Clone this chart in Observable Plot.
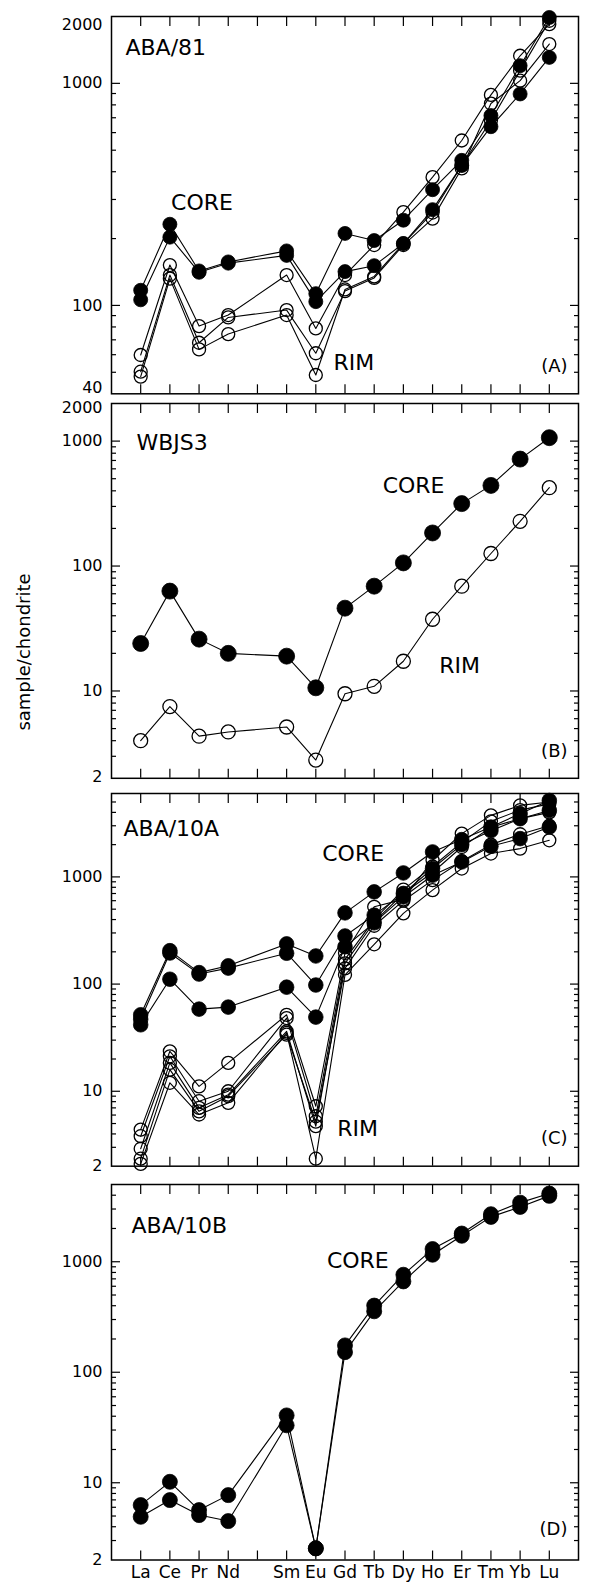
<!DOCTYPE html>
<html><head><meta charset="utf-8">
<script src="https://cdn.jsdelivr.net/npm/d3@7"></script>
<script src="https://cdn.jsdelivr.net/npm/@observablehq/plot@0.6"></script>
<style>
body{margin:0;background:#fff;}
#wrap{position:relative;width:590px;height:1584px;font-family:"DejaVu Sans",sans-serif;overflow:hidden;}
#wrap svg{position:absolute;left:0;}
#ylab{position:absolute;left:23px;top:652px;transform:translate(-50%,-50%) rotate(-90deg);font-size:18px;white-space:nowrap;color:#000;}
</style></head><body><div id="wrap"><div id="ylab">sample/chondrite</div></div>
<script>
// REE labels and their atomic numbers (Pm, 61, has no data)
const elements = ["La","Ce","Pr","Nd","Sm","Eu","Gd","Tb","Dy","Ho","Er","Tm","Yb","Lu"];
const atomicNumbers = [57,58,59,60,62,63,64,65,66,67,68,69,70,71];
const tickNumbers = [57,58,59,60,61,62,63,64,65,66,67,68,69,70,71];

// (A) ABA/81
const aba81Core1 = [117,232,143,157,176,113,211,196,242,332,450,716,1201,1980];
const aba81Core2 = [106,203,141,155,168,104,142,151,190,270,427,638,896,1309];
const aba81Rim1  = [59.8,152,80.7,90.5,137,78.8,137,187,263,378,553,887,1331,1849];
const aba81Rim2  = [50.3,137,67.9,88.3,95.3,60.9,116,133,187,246,414,811,1028,1503];
const aba81Rim3  = [47.8,132,63.4,74.3,90.5,48.6,118,135,190,262,427,680,1141,1914];
const yTicksA = [40,100,1000,2000];

// (B) WBJS3
const wbjs3Core = [24,63,26,20,19,10.6,46,69,106,184,316,442,718,1065];
const wbjs3Rim  = [4.0,7.5,4.35,4.7,5.15,2.8,9.5,10.9,17.3,37.5,69,126,228,424];
const yTicksB = [2,10,100,1000,2000];

// (C) ABA/10A
const aba10aCore1 = [51.7,205,128,148,237,183,462,725,1089,1710,2228,2918,3890,5166];
const aba10aCore2 = [47,195,124,141,194,98,281,440,701,1197,2000,2700,3491,4169];
const aba10aCore3 = [41.7,111,58.4,61,93.6,49.2,223,373,650,1037,1380,1931,2277,2918];
const aba10aRim1 = [4.39,23.6,11.1,18.4,51.7,7.25,195,526,617,1430,2534,3750,4645,5000];
const aba10aRim2 = [3.81,21.2,8.08,10,48.2,5.85,170,400,760,1250,2100,3300,4200,4800];
const aba10aRim3 = [2.91,18.4,7.0,9.3,36.2,4.72,156,380,700,1100,1900,2900,3500,4000];
const aba10aRim4 = [2.35,15.9,6.5,9.0,33.7,5.2,140,350,600,933,1400,2000,2500,3000];
const aba10aRim5 = [2.1,12,6.07,7.8,35,2.35,122,235,457,752,1197,1652,1837,2195];
const yTicksC = [2,10,100,1000,6000];

// (D) ABA/10B
const aba10bCore1 = [6.28,10.2,5.66,7.73,40.7,2.55,175,401,763,1303,1800,2692,3427,4140];
const aba10bCore2 = [4.92,6.97,5.1,4.5,33.1,2.55,152,356,664,1157,1718,2546,3134,3946];
const yTicksD = [2,10,100,1000,5000];

const panels = [
  {name:"ABA/81", tag:"(A)", frame:[15.7,393], ticks:yTicksA, topDy:8, botDy:-6, mB:8,
   series:[["c1","core",aba81Core1],["c2","core",aba81Core2],["r1","rim",aba81Rim1],["r2","rim",aba81Rim2],["r3","rim",aba81Rim3]],
   notes:[{t:"CORE", z:59.1, v:288},{t:"RIM", z:64.3, v:55.3}], nameDx:14, nameDy:31, tagDy:-28, rCore:7, rRim:6.5},
  {name:"WBJS3", tag:"(B)", frame:[402.7,777.5], ticks:yTicksB, topDy:4, botDy:-1, mB:8,
   series:[["c1","core",wbjs3Core],["r1","rim",wbjs3Rim]],
   notes:[{t:"CORE", z:66.35, v:434},{t:"RIM", z:67.93, v:15.8}], nameDx:25, nameDy:39, tagDy:-27, rCore:8, rRim:7},
  {name:"ABA/10A", tag:"(C)", frame:[793.3,1166], ticks:yTicksC, topDy:2, botDy:0, mB:8,
   series:[["r1","rim",aba10aRim1],["r2","rim",aba10aRim2],["r3","rim",aba10aRim3],["r4","rim",aba10aRim4],["r5","rim",aba10aRim5],
           ["c1","core",aba10aCore1],["c2","core",aba10aCore2],["c3","core",aba10aCore3]],
   notes:[{t:"CORE", z:64.28, v:1652},{t:"RIM", z:64.43, v:4.47}], nameDx:12, nameDy:35, tagDy:-28, rCore:7.3, rRim:6.5},
  {name:"ABA/10B", tag:"(D)", frame:[1184,1559.5], ticks:yTicksD, topDy:-4, botDy:0, mB:24.5,
   series:[["c1","core",aba10bCore1],["c2","core",aba10bCore2]],
   notes:[{t:"CORE", z:64.44, v:1020}], nameDx:20, nameDy:41, tagDy:-31, rCore:7.5, rRim:6.5, xLabels:true}
];

const wrap = document.getElementById("wrap");
const mT = 16;

for (const p of panels) {
  const rows = p.series.flatMap(([name, kind, vals]) => vals.map((v, i) => ({series:name, kind, z:atomicNumbers[i], v})));
  const ymin = p.ticks[0], ymax = p.ticks[p.ticks.length - 1];
  const majors = [], minors = [];
  for (let d = 1; d <= 10000; d *= 10) {
    if (d > ymin && d < ymax) majors.push(d);
    for (let m = 2; m <= 9; m++) { const t = d * m; if (t > ymin && t < ymax) minors.push(t); }
  }
  const mid = p.ticks.slice(1, -1);
  const blank = () => "";
  const marks = [
    Plot.axisY({anchor:"left", ticks:majors, tickSize:-9, tickFormat:blank, label:null, strokeWidth:1.2}),
    Plot.axisY({anchor:"right", ticks:majors, tickSize:-9, tickFormat:blank, label:null, strokeWidth:1.2}),
    Plot.axisY({anchor:"left", ticks:minors, tickSize:-5, tickFormat:blank, label:null, strokeWidth:1.2}),
    Plot.axisY({anchor:"right", ticks:minors, tickSize:-5, tickFormat:blank, label:null, strokeWidth:1.2}),
    Plot.axisX({anchor:"top", ticks:tickNumbers, tickSize:-9, tickFormat:blank, label:null, strokeWidth:1.2}),
    Plot.axisX({anchor:"bottom", ticks:tickNumbers, tickSize:-9, tickFormat:blank, label:null, strokeWidth:1.2}),
    Plot.axisY({anchor:"left", ticks:mid, tickSize:0, tickPadding:9, fontSize:16, tickFormat:d => String(d), label:null}),
    Plot.axisY({anchor:"left", ticks:[ymax], tickSize:0, tickPadding:9, fontSize:16, tickFormat:d => String(d), label:null, dy:p.topDy}),
    Plot.axisY({anchor:"left", ticks:[ymin], tickSize:0, tickPadding:9, fontSize:16, tickFormat:d => String(d), label:null, dy:p.botDy}),
    Plot.frame({stroke:"black", strokeWidth:1.5}),
    Plot.line(rows, {x:"z", y:"v", z:"series", stroke:"black", strokeWidth:1.1}),
    Plot.dot(rows.filter(d => d.kind === "rim"), {x:"z", y:"v", r:p.rRim, fill:"none", stroke:"black", strokeWidth:1.3}),
    Plot.dot(rows.filter(d => d.kind === "core"), {x:"z", y:"v", r:p.rCore, fill:"black", stroke:"black", strokeWidth:0.8}),
    Plot.text([p.name], {frameAnchor:"top-left", dx:p.nameDx, dy:p.nameDy, textAnchor:"start", lineAnchor:"middle", fontSize:22}),
    Plot.text([p.tag], {frameAnchor:"bottom-right", dx:-11, dy:p.tagDy, textAnchor:"end", lineAnchor:"middle", fontSize:18}),
    Plot.text(p.notes, {x:"z", y:"v", text:"t", textAnchor:"middle", lineAnchor:"middle", fontSize:22})
  ];
  if (p.xLabels) {
    marks.push(Plot.axisX({anchor:"bottom", ticks:atomicNumbers, tickSize:0, tickPadding:6, fontSize:17,
      tickFormat:z => elements[atomicNumbers.indexOf(z)], label:null}));
  }
  const h = p.frame[1] - p.frame[0];
  const svg = Plot.plot({
    width:590, height:h + mT + p.mB,
    marginLeft:111, marginRight:12, marginTop:mT, marginBottom:p.mB,
    x:{domain:[56,72]},
    y:{type:"log", domain:[ymin, ymax]},
    style:{fontFamily:"DejaVu Sans, sans-serif", background:"transparent", overflow:"visible", color:"black"},
    marks
  });
  svg.style.top = (p.frame[0] - mT) + "px";
  wrap.appendChild(svg);
}
</script>
</body></html>
